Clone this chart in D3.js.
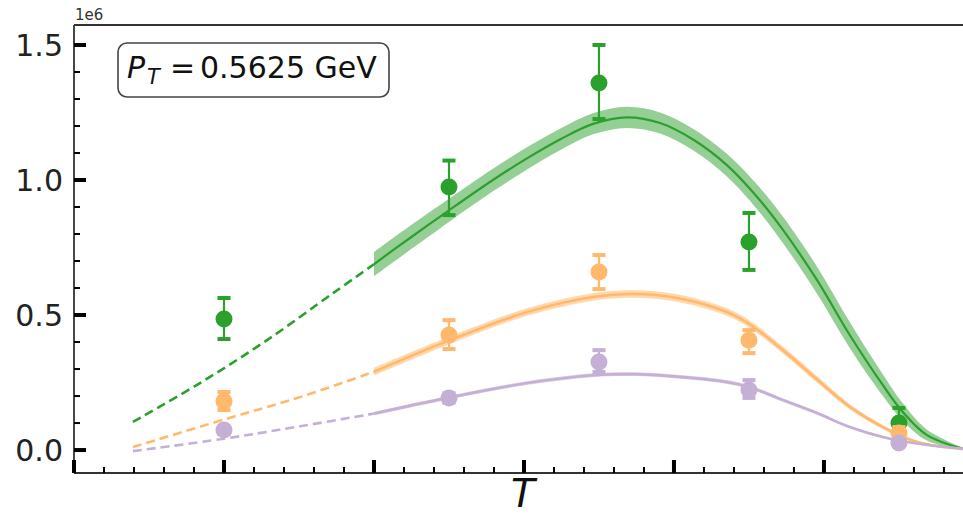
<!DOCTYPE html>
<html><head><meta charset="utf-8">
<script src="https://cdn.jsdelivr.net/npm/d3@7"></script>
<style>body{margin:0;background:#fff}svg{display:block}text{font-family:"DejaVu Sans",sans-serif}</style>
</head><body>
<script>
// ---- data (T in units of major tick spacing; values in units of 1e6) ----
const pointsT = [1.0, 2.5, 3.5, 4.5, 5.5];
const greenPts = [0.485, 0.974, 1.359, 0.770, 0.100];
const greenLo  = [0.411, 0.870, 1.226, 0.667, 0.050];
const greenHi  = [0.563, 1.072, 1.500, 0.878, 0.156];
const orangePts = [0.181, 0.426, 0.659, 0.407, 0.063];
const orangeLo  = [0.148, 0.374, 0.596, 0.359, 0.040];
const orangeHi  = [0.215, 0.481, 0.722, 0.444, 0.085];
const purplePts = [0.074, 0.193, 0.326, 0.222, 0.026];
const purpleLo  = [0.060, 0.175, 0.289, 0.193, 0.015];
const purpleHi  = [0.088, 0.210, 0.370, 0.259, 0.037];

// extrapolated (dashed) part of the fits
const dashT      = [0.393, 0.84, 1.287, 1.727, 2.0];
const greenDash  = [0.104, 0.248, 0.407, 0.581, 0.688];
const dashT2     = [0.393, 1.0, 1.507, 2.0];
const orangeDash = [0.011, 0.113, 0.196, 0.290];
const purpleDash = [-0.004, 0.042, 0.088, 0.135];

// fitted (solid) part with band half-widths
const greenT   = [2.0, 2.127, 2.353, 2.493, 2.793, 3.02, 3.24, 3.46, 3.687, 3.907, 4.127, 4.353, 4.573, 4.727, 4.953, 5.173, 5.393, 5.527, 5.687, 5.927];
const greenFit = [0.688, 0.740, 0.830, 0.885, 1.000, 1.080, 1.150, 1.208, 1.232, 1.211, 1.150, 1.055, 0.925, 0.815, 0.630, 0.425, 0.240, 0.140, 0.055, 0.004];
const greenErr = [0.045, 0.045, 0.044, 0.043, 0.042, 0.041, 0.040, 0.039, 0.039, 0.039, 0.040, 0.042, 0.046, 0.049, 0.050, 0.048, 0.040, 0.032, 0.020, 0.004];
const fitT      = [2.0, 2.507, 3.02, 3.46, 3.727, 4.02, 4.353, 4.507, 4.727, 4.953, 5.173, 5.393, 5.62, 5.927];
const orangeFit = [0.290, 0.407, 0.511, 0.567, 0.578, 0.563, 0.511, 0.465, 0.370, 0.262, 0.160, 0.085, 0.030, 0.004];
const orangeErr = [0.014, 0.014, 0.014, 0.014, 0.014, 0.014, 0.014, 0.014, 0.013, 0.012, 0.010, 0.008, 0.005, 0.002];
const purpleFit = [0.135, 0.195, 0.248, 0.277, 0.281, 0.272, 0.252, 0.232, 0.185, 0.137, 0.085, 0.048, 0.024, 0.004];
const purpleErr = [0.007, 0.007, 0.007, 0.007, 0.007, 0.007, 0.007, 0.007, 0.007, 0.006, 0.005, 0.004, 0.003, 0.001];

const yTickVals = [0.0, 0.5, 1.0, 1.5];
const yTickLabels = ["0.0", "0.5", "1.0", "1.5"];
const xMajor = [0, 1, 2, 3, 4, 5];
const labelText = "0.5625 GeV";

// ---- layout ----
const W = 963, H = 516;
const L = 74, R = 963, T = 25, B = 473;
const x = d3.scaleLinear().domain([0, 5.927]).range([L, R]);
const y = d3.scaleLinear().domain([-0.085, 1.574]).range([B, T]);

const svg = d3.select("body").append("svg").attr("width", W).attr("height", H);
svg.append("defs").append("clipPath").attr("id", "clip")
  .append("rect").attr("x", L).attr("y", T).attr("width", R - L).attr("height", B - T);
const plot = svg.append("g").attr("clip-path", "url(#clip)");

const COL = {green: "#2ca02c", orange: "#ffb86c", purple: "#c5b0d5"};

const crv = d3.curveCatmullRom.alpha(0.5);
const line = d3.line().x(d => x(d[0])).y(d => y(d[1])).curve(crv);
const area = d3.area().x(d => x(d[0])).y0(d => y(d[1] - d[2])).y1(d => y(d[1] + d[2])).curve(crv);

function drawFit(ts, vals, errs, dts, dvals, col, bandOp, lw) {
  const solid = ts.map((t, i) => [t, vals[i], errs[i]]);
  plot.append("path").datum(solid).attr("d", area).attr("fill", col).attr("fill-opacity", bandOp).attr("stroke", "none");
  plot.append("path").datum(solid).attr("d", line).attr("fill", "none").attr("stroke", col).attr("stroke-width", lw);
  const dash = dts.map((t, i) => [t, dvals[i]]);
  plot.append("path").datum(dash).attr("d", line).attr("fill", "none").attr("stroke", col)
    .attr("stroke-width", 2.6).attr("stroke-dasharray", "9,5");
}
drawFit(greenT, greenFit, greenErr, dashT, greenDash, COL.green, 0.5, 2.2);
drawFit(fitT, orangeFit, orangeErr, dashT2, orangeDash, COL.orange, 0.55, 2.6);
drawFit(fitT, purpleFit, purpleErr, dashT2, purpleDash, COL.purple, 0.55, 2.6);

function drawPts(vals, lo, hi, col) {
  const g = plot.append("g");
  pointsT.forEach((t, i) => {
    const cx = x(t);
    g.append("line").attr("x1", cx).attr("x2", cx).attr("y1", y(lo[i])).attr("y2", y(hi[i]))
      .attr("stroke", col).attr("stroke-width", 2.2);
    [lo[i], hi[i]].forEach(v => g.append("line").attr("x1", cx - 6.5).attr("x2", cx + 6.5)
      .attr("y1", y(v)).attr("y2", y(v)).attr("stroke", col).attr("stroke-width", 4));
    g.append("circle").attr("cx", cx).attr("cy", y(vals[i])).attr("r", 8.5).attr("fill", col);
  });
}
drawPts(greenPts, greenLo, greenHi, COL.green);
drawPts(orangePts, orangeLo, orangeHi, COL.orange);
drawPts(purplePts, purpleLo, purpleHi, COL.purple);

// ---- axes ----
const ax = svg.append("g");
ax.append("line").attr("x1", L).attr("x2", R).attr("y1", T).attr("y2", T).attr("stroke", "#333").attr("stroke-width", 1.8);
ax.append("line").attr("x1", L).attr("x2", L).attr("y1", T).attr("y2", B).attr("stroke", "#333").attr("stroke-width", 1.8);
ax.append("line").attr("x1", L).attr("x2", R).attr("y1", B).attr("y2", B).attr("stroke", "#333").attr("stroke-width", 1.8);

// y ticks
d3.range(0, 16).map(i => i / 10).forEach(v => {
  const major = yTickVals.some(m => Math.abs(m - v) < 1e-9);
  ax.append("line").attr("x1", L).attr("x2", L + (major ? 12 : 6)).attr("y1", y(v)).attr("y2", y(v))
    .attr("stroke", "#000").attr("stroke-width", major ? 4 : 2);
});
yTickVals.forEach((v, i) => {
  ax.append("text").attr("x", 63).attr("y", y(v)).attr("dy", "0.36em").attr("text-anchor", "end")
    .attr("font-size", 30).attr("fill", "#222").text(yTickLabels[i]);
});
// x ticks
d3.range(0, 30).map(i => i / 5).forEach(v => {
  if (x(v) > R) return;
  const major = xMajor.some(m => Math.abs(m - v) < 1e-9);
  ax.append("line").attr("x1", x(v)).attr("x2", x(v)).attr("y1", B).attr("y2", B - (major ? 13 : 6))
    .attr("stroke", "#000").attr("stroke-width", major ? 4 : 2);
});
// axis label
ax.append("text").attr("x", 523).attr("y", 507).attr("text-anchor", "middle")
  .attr("font-size", 39).attr("font-style", "italic").attr("fill", "#111").text("T");
// offset text
ax.append("text").attr("x", 75).attr("y", 20).attr("font-size", 15).attr("fill", "#333").text("1e6");

// label box
const box = svg.append("g");
box.append("rect").attr("x", 118).attr("y", 43).attr("width", 271).attr("height", 54).attr("rx", 9)
  .attr("fill", "#fff").attr("stroke", "#444").attr("stroke-width", 1.6);
box.append("text").attr("x", 127).attr("y", 78).attr("font-size", 30).attr("font-style", "italic").attr("fill", "#111").text("P");
box.append("text").attr("x", 147).attr("y", 84).attr("font-size", 21).attr("font-style", "italic").attr("fill", "#111").text("T");
box.append("text").attr("x", 170).attr("y", 78).attr("font-size", 30).attr("fill", "#111").text("=");
box.append("text").attr("x", 200).attr("y", 78).attr("font-size", 30).attr("fill", "#111").text(labelText);
</script>
</body></html>
